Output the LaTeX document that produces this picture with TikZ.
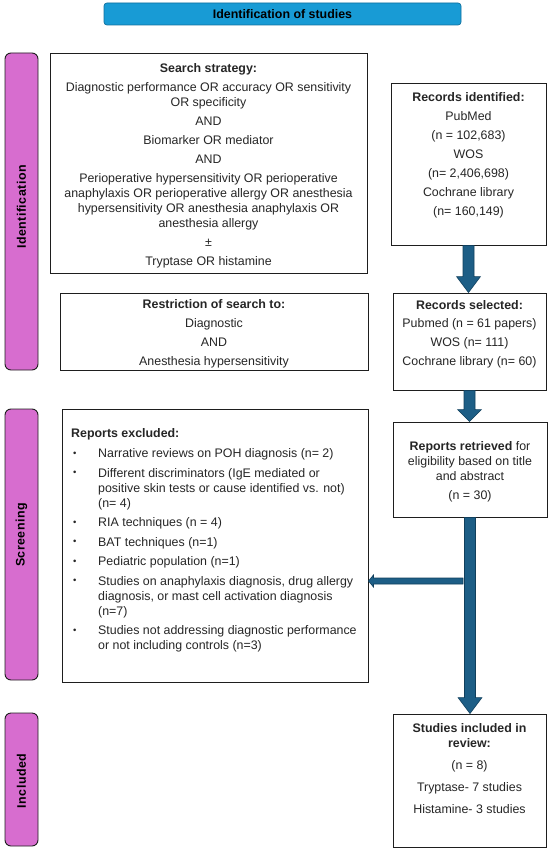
\documentclass[tikz,border=0pt]{standalone}
\usepackage{fontspec}
\setmainfont{Liberation Sans}
\usetikzlibrary{calc}
\definecolor{titleblue}{HTML}{189BD5}
\definecolor{titleedge}{HTML}{10709E}
\definecolor{barpink}{HTML}{D76DCF}
\definecolor{arrowblue}{HTML}{1D5E86}
\definecolor{arrowedge}{HTML}{113F5C}
\definecolor{boxedge}{HTML}{1E1E1E}
\definecolor{textgray}{HTML}{262626}
\newcommand{\bul}{\makebox[27pt][l]{\hspace{2pt}\raisebox{1.3pt}{\fontsize{9.5}{9.5}\selectfont\textbullet}}}
\newcommand{\ind}{\hspace*{27pt}}
\newcommand{\vbigarrow}[3]{%
  \path[arrowshape] let \p1=(#1), \p2=(#2) in
    (\x1-5.5pt,\y1) -- (\x1+5.5pt,\y1) -- (\x1+5.5pt,\y2+#3) -- (\x1+12pt,\y2+#3)
    -- (\x1,\y2) -- (\x1-12pt,\y2+#3) -- (\x1-5.5pt,\y2+#3) -- cycle;}
\tikzset{
  arrowshape/.style={fill=arrowblue, draw=arrowedge, line width=0.6pt},
  box/.style={draw=boxedge, line width=0.9pt, fill=white, inner sep=0pt},
  txt/.style={font=\fontsize{12.4}{15}\selectfont, text=textgray, align=center, inner sep=0pt},
  bar/.style={draw=boxedge, line width=0.9pt, fill=barpink, rounded corners=6pt, inner sep=0pt},
  barlabel/.style={font=\fontsize{12.4}{15}\selectfont\bfseries\addfontfeature{LetterSpace=4}, rotate=90, inner sep=0pt},
  titlebox/.style={draw=titleedge, line width=0.7pt, fill=titleblue, rounded corners=3pt, inner sep=0pt,
    font=\fontsize{12.4}{15}\selectfont\bfseries}
}
\begin{document}
\begin{tikzpicture}[x=1pt,y=-1pt]
\useasboundingbox (0,0) rectangle (550,853);

% title
\node[titlebox, minimum width=357pt, minimum height=22pt] (title) at (282.5,14) {Identification of studies};

% side bars
\node[bar, minimum width=33pt, minimum height=317pt] (barid) at (21.5,211.5) {};
\node[barlabel] (baridl) at (21.5,207) {Identification};
\node[bar, minimum width=33pt, minimum height=271pt] (barsc) at (21.5,544.5) {};
\node[barlabel] (barscl) at (21.5,535) {Screening};
\node[bar, minimum width=33pt, minimum height=133pt] (barin) at (21.5,779.5) {};
\node[barlabel] (barinl) at (21.5,781) {Included};

% search strategy
\node[box, minimum width=317pt, minimum height=220pt] (search) at (208.5,163) {};
\node[txt, anchor=north] (searcht) at (208.5,63.5) {\textbf{Search strategy:}\\[4pt]
Diagnostic performance OR accuracy OR sensitivity\\
OR specificity\\[4pt]
AND\\[4pt]
Biomarker OR mediator\\[4pt]
AND\\[4pt]
Perioperative hypersensitivity OR perioperative\\
anaphylaxis OR perioperative allergy OR anesthesia\\
hypersensitivity OR anesthesia anaphylaxis OR\\
anesthesia allergy\\[4pt]
±\\[4pt]
Tryptase OR histamine};

% records identified
\node[box, minimum width=155pt, minimum height=162pt] (rid) at (468.5,164) {};
\node[txt, anchor=north] (ridt) at (468.5,92.5) {\textbf{Records identified:}\\[4pt]
PubMed\\[4pt]
(n = 102,683)\\[4pt]
WOS\\[4pt]
(n= 2,406,698)\\[4pt]
Cochrane library\\[4pt]
(n= 160,149)};

% restriction
\node[box, minimum width=308pt, minimum height=77pt] (restr) at (214,331.5) {};
\node[txt, anchor=north] (restrt) at (214,299.5) {\textbf{Restriction of search to:}\\[4pt]
Diagnostic\\[4pt]
AND\\[4pt]
Anesthesia hypersensitivity};

% records selected
\node[box, minimum width=153pt, minimum height=97pt] (rsel) at (469.5,341.5) {};
\node[txt, anchor=north] (rselt) at (469.5,300.5) {\textbf{Records selected:}\\[3pt]
Pubmed (n = 61 papers)\\[4pt]
WOS (n= 111)\\[4pt]
Cochrane library (n= 60)};

% reports retrieved
\node[box, minimum width=154pt, minimum height=95pt] (ret) at (470,469.5) {};
\node[txt, anchor=north] (rett) at (470,441.5) {\textbf{Reports retrieved} for\\
eligibility based on title\\
and abstract\\[4pt]
(n = 30)};

% reports excluded
\node[box, minimum width=306pt, minimum height=273pt] (excl) at (215,545.5) {};
\node[txt, align=left, anchor=north west] (exclt) at (71,428.5) {\textbf{Reports excluded:}\\[5pt]
\bul Narrative reviews on POH diagnosis (n= 2)\\[4.5pt]
\bul Different discriminators (IgE mediated or\\
\ind positive skin tests or cause identified vs. not)\\
\ind (n= 4)\\[4.5pt]
\bul RIA techniques (n = 4)\\[4.5pt]
\bul BAT techniques (n=1)\\[4.5pt]
\bul Pediatric population (n=1)\\[4.5pt]
\bul Studies on anaphylaxis diagnosis, drug allergy\\
\ind diagnosis, or mast cell activation diagnosis\\
\ind (n=7)\\[4.5pt]
\bul Studies not addressing diagnostic performance\\
\ind or not including controls (n=3)};

% studies included
\node[box, minimum width=153pt, minimum height=133pt] (incl) at (469.5,780.5) {};
\node[txt, anchor=north] (inclt) at (469.5,723.5) {\textbf{Studies included in}\\
\textbf{review:}\\[7pt]
(n = 8)\\[7pt]
Tryptase- 7 studies\\[7pt]
Histamine- 3 studies};

% arrows
\vbigarrow{rid.south}{rsel.north}{16pt}
\vbigarrow{rsel.south}{ret.north}{12pt}
\vbigarrow{ret.south}{incl.north}{16pt}
\coordinate (junc) at (463,581);
\path[arrowshape] let \p1=(junc), \p2=(excl.east |- junc) in
  (\x1,\y1+3pt) -- (\x2+5pt,\y1+3pt) -- (\x2+5pt,\y1+6pt) -- (\x2,\y1)
  -- (\x2+5pt,\y1-6pt) -- (\x2+5pt,\y1-3pt) -- (\x1,\y1-3pt) -- cycle;
\end{tikzpicture}
\end{document}
